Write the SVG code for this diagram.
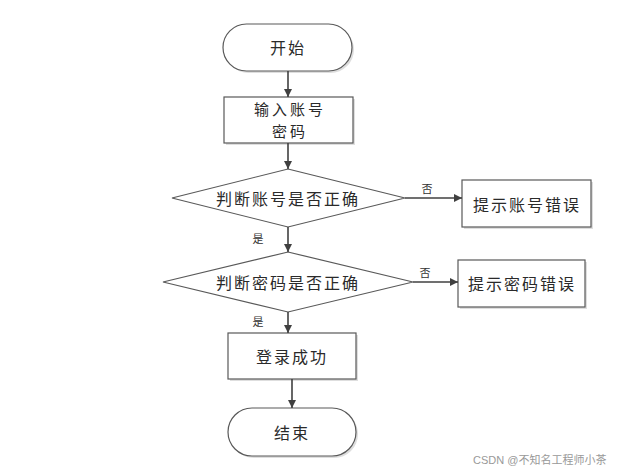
<svg xmlns="http://www.w3.org/2000/svg" width="618" height="470" viewBox="0 0 618 470">
<style>
.shape{fill:#fff;stroke:#595959;stroke-width:1.2}
.shadow{fill:#dedede;stroke:none}
.t{font-family:"Noto Sans CJK SC","Liberation Sans",sans-serif;font-size:16px;fill:#2a2a2a;text-anchor:middle;dominant-baseline:central;letter-spacing:2px}
.t2{font-family:"Noto Sans CJK SC","Liberation Sans",sans-serif;font-size:15px;fill:#2a2a2a;text-anchor:middle;dominant-baseline:central;letter-spacing:3px}
.lbl{font-family:"Noto Sans CJK SC","Liberation Sans",sans-serif;font-size:11px;fill:#333;text-anchor:middle;dominant-baseline:central}
.wm{font-family:"Liberation Sans","Noto Sans CJK SC",sans-serif;font-size:11px;fill:#999}
.c{stroke:#404040;stroke-width:1.6;fill:none;marker-end:url(#ah)}
</style>
<defs>
<marker id="ah" viewBox="0 0 10 10" refX="10" refY="5" markerWidth="8" markerHeight="8" markerUnits="userSpaceOnUse" orient="auto"><path d="M0,0 L10,5 L0,10 z" fill="#404040"/></marker>
</defs>
<rect width="618" height="470" fill="#fff"/>
<g id="start">
<rect class="shadow" x="225" y="26" width="129" height="47" rx="23.5"/>
<rect class="shape" x="223" y="24" width="129" height="47" rx="23.5"/>
<text class="t" x="288" y="47">开始</text>
</g>
<g id="input">
<rect class="shadow" x="226" y="99" width="129" height="46"/>
<rect class="shape" x="224" y="97" width="129" height="46"/>
<text class="t2" x="290" y="108">输入账号</text>
<text class="t2" x="290" y="130">密码</text>
</g>
<g id="check1">
<polygon class="shape" points="288,169 405,198 288,227 172,198"/>
<text class="t" x="288" y="198">判断账号是否正确</text>
</g>
<g id="err1">
<rect class="shadow" x="464" y="182" width="129" height="47"/>
<rect class="shape" x="462" y="180" width="129" height="47"/>
<text class="t" x="527" y="204">提示账号错误</text>
</g>
<g id="check2">
<polygon class="shape" points="288,252 413,282 288,312 163,282"/>
<text class="t" x="288" y="282">判断密码是否正确</text>
</g>
<g id="err2">
<rect class="shadow" x="460" y="262" width="127" height="47"/>
<rect class="shape" x="458" y="260" width="127" height="47"/>
<text class="t" x="522" y="283">提示密码错误</text>
</g>
<g id="success">
<rect class="shadow" x="230" y="335" width="128" height="46"/>
<rect class="shape" x="228" y="333" width="128" height="46"/>
<text class="t" x="292" y="356">登录成功</text>
</g>
<g id="end">
<rect class="shadow" x="230" y="410" width="128" height="48" rx="24"/>
<rect class="shape" x="228" y="408" width="128" height="48" rx="24"/>
<text class="t" x="292" y="432">结束</text>
</g>
<g id="connectors">
<line class="c" x1="288" y1="71" x2="288" y2="97"/>
<line class="c" x1="288" y1="143" x2="288" y2="169"/>
<line class="c" x1="288" y1="227" x2="288" y2="252"/>
<line class="c" x1="288" y1="312" x2="288" y2="333"/>
<line class="c" x1="292" y1="379" x2="292" y2="408"/>
<line class="c" x1="405" y1="198" x2="462" y2="198"/>
<line class="c" x1="413" y1="282" x2="458" y2="282"/>
<text class="lbl" x="258" y="238">是</text>
<text class="lbl" x="258" y="321">是</text>
<text class="lbl" x="427" y="188">否</text>
<text class="lbl" x="425" y="272">否</text>
</g>
<text class="wm" x="473" y="464">CSDN @不知名工程师小茶</text>
</svg>
